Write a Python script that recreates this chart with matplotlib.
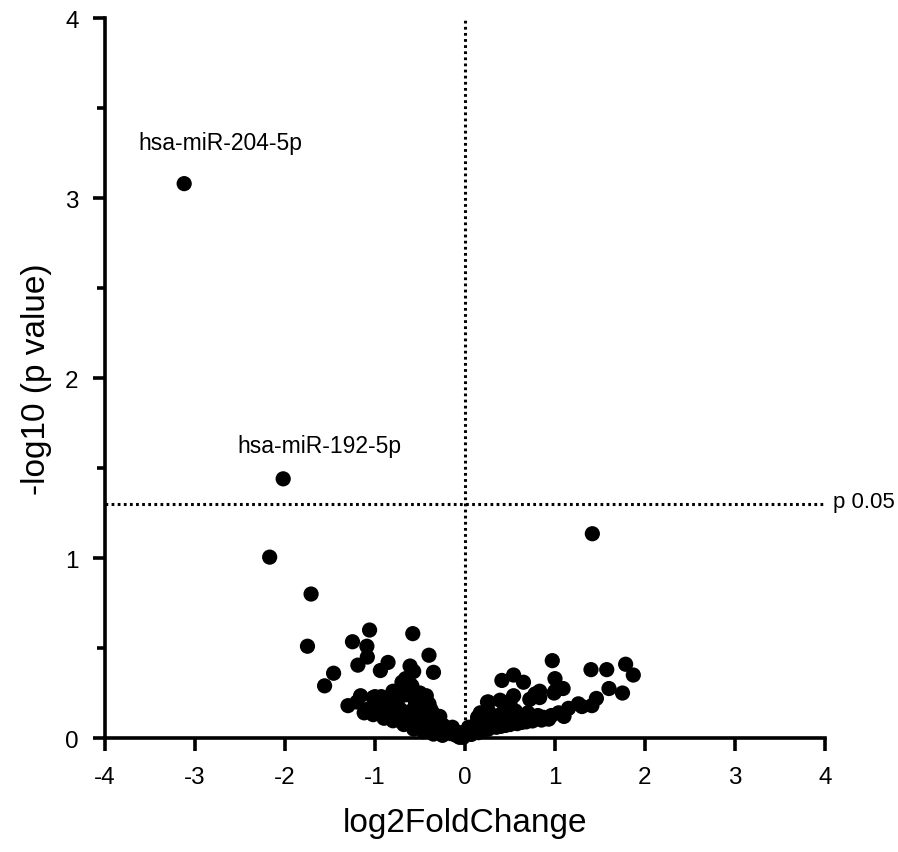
import math
import matplotlib
matplotlib.use("Agg")
import matplotlib.pyplot as plt

plt.rcParams['font.family'] = ['Liberation Sans', 'DejaVu Sans']
plt.rcParams['axes.unicode_minus'] = False

# log2FoldChange and -log10(p value) of each miRNA
log2fc = [
    -3.12, -2.02, -2.17, 1.415,
    -1.71, -1.75, -1.46, -1.56,
    -1.06, -1.25, -1.09, -1.085, -1.19, -0.94, -0.855, -0.58, -0.40, -0.61, -0.57, -0.35,
    -1.30, -1.16, -1.00, -0.93, -0.685, -0.59, -0.74, -0.43,
    -1.02, -0.80, -0.70, -0.61, -0.66,
    -0.83, -0.72, -0.50, -0.43, -0.31, -0.24, -0.17, -0.09, -0.02,
    -1.02, -0.80, -0.57, -0.35, -1.12, -0.90, -0.68, -0.46, -0.25,
    -0.95, -0.88, -0.78, -0.65, -0.60, -0.55, -0.52, -0.45, -0.38, -0.33, -0.28, -0.20,
    -0.14, -0.12, -0.06, -1.20, -0.75, -0.66, -0.50, -0.47, -0.40, -0.36,
    -1.08, -0.98, -0.86, -0.74, -0.62, -0.54, -0.41, -0.30, -0.22, -0.16, -0.10,
    0.97, 1.40, 1.575, 1.785, 1.87, 1.60, 1.75, 1.00, 1.09, 0.99, 0.77, 0.83, 0.72,
    0.41, 0.54, 0.65, 0.54, 0.39, 0.25,
    1.46, 1.30, 1.41, 1.15, 1.04, 0.87, 0.74, 0.65, 0.46, 0.17, 0.26, 0.44, 0.50,
    0.09, 0.02, -0.06,
    0.78, 0.83, 1.00, 0.26, 0.17, 0.14, 0.37, 0.56, 0.70, 0.81, 0.96, 1.26,
    0.26, 0.63, 0.93, 0.40, 0.50, 0.75, 0.15, 0.04, 0.11, 0.20, 0.30, 0.33,
    0.07, 0.13, 0.22, 0.35, 0.45, 0.58, 0.68, 0.85, 1.10,
]
neglog10p = [
    3.08, 1.44, 1.005, 1.135,
    0.80, 0.51, 0.36, 0.29,
    0.60, 0.535, 0.51, 0.45, 0.405, 0.375, 0.42, 0.58, 0.46, 0.40, 0.37, 0.365,
    0.18, 0.235, 0.23, 0.23, 0.31, 0.29, 0.255, 0.235,
    0.225, 0.26, 0.31, 0.30, 0.33,
    0.20, 0.16, 0.18, 0.125, 0.105, 0.07, 0.03, 0.013, 0.004,
    0.13, 0.096, 0.05, 0.022, 0.14, 0.11, 0.075, 0.035, 0.015,
    0.17, 0.15, 0.13, 0.12, 0.15, 0.20, 0.10, 0.08, 0.16, 0.06, 0.12, 0.05,
    0.06, 0.02, 0.03, 0.20, 0.21, 0.24, 0.25, 0.21, 0.19, 0.14,
    0.16, 0.14, 0.12, 0.10, 0.08, 0.065, 0.05, 0.04, 0.03, 0.025, 0.02,
    0.43, 0.38, 0.38, 0.41, 0.35, 0.275, 0.25, 0.33, 0.275, 0.25, 0.235, 0.225, 0.215,
    0.32, 0.35, 0.31, 0.235, 0.21, 0.20,
    0.22, 0.175, 0.18, 0.165, 0.14, 0.115, 0.105, 0.125, 0.105, 0.125, 0.15, 0.16, 0.20,
    0.05, 0.03, 0.004,
    0.245, 0.26, 0.26, 0.20, 0.14, 0.115, 0.125, 0.15, 0.14, 0.125, 0.125, 0.19,
    0.05, 0.087, 0.105, 0.065, 0.075, 0.095, 0.03, 0.06, 0.07, 0.09, 0.10, 0.08,
    0.02, 0.035, 0.045, 0.06, 0.07, 0.08, 0.09, 0.10, 0.12,
]

labels = ["hsa-miR-204-5p", "hsa-miR-192-5p"]
label_pos = [(-2.72, 3.27), (-1.62, 1.59)]
p_threshold = 0.05
threshold_text = "p 0.05"

fig = plt.figure(figsize=(8.98, 8.53), dpi=100)
ax = fig.add_axes([0.1169, 0.1336, 0.8018, 0.8441])

ax.scatter(log2fc, neglog10p, s=120, c='black', edgecolors='none', zorder=3, clip_on=False)

thr = -math.log10(p_threshold)
ax.axhline(thr, color='black', linestyle=(0, (0.9, 1.1)), linewidth=2.2, zorder=2)
ax.axvline(0, color='black', linestyle=(0, (0.9, 1.1)), linewidth=2.2, zorder=2)

for lab, (x, y) in zip(labels, label_pos):
    ax.text(x, y, lab, fontsize=16.5, ha='center', va='baseline')
ax.text(4.09, thr - 0.018, threshold_text, fontsize=16, ha='left', va='baseline', clip_on=False)

ax.set_xlim(-4, 4)
ax.set_ylim(0, 4)
ax.set_xticks(range(-4, 5))
ax.set_yticks(range(0, 5))
ax.set_yticks([0.5, 1.5, 2.5, 3.5], minor=True)

for s in ['top', 'right']:
    ax.spines[s].set_visible(False)
for s in ['left', 'bottom']:
    ax.spines[s].set_linewidth(2.6)

ax.tick_params(axis='both', which='major', direction='out', length=9, width=2.6, labelsize=17.5)
ax.tick_params(axis='y', which='minor', direction='out', length=6, width=2.6)
ax.tick_params(axis='x', which='major', pad=11)
ax.tick_params(axis='y', which='major', pad=10)

ax.set_xlabel("log2FoldChange", fontsize=24, labelpad=14)
ax.set_ylabel("-log10 (p value)", fontsize=24, labelpad=9)

fig.savefig("out.png", dpi=100)
